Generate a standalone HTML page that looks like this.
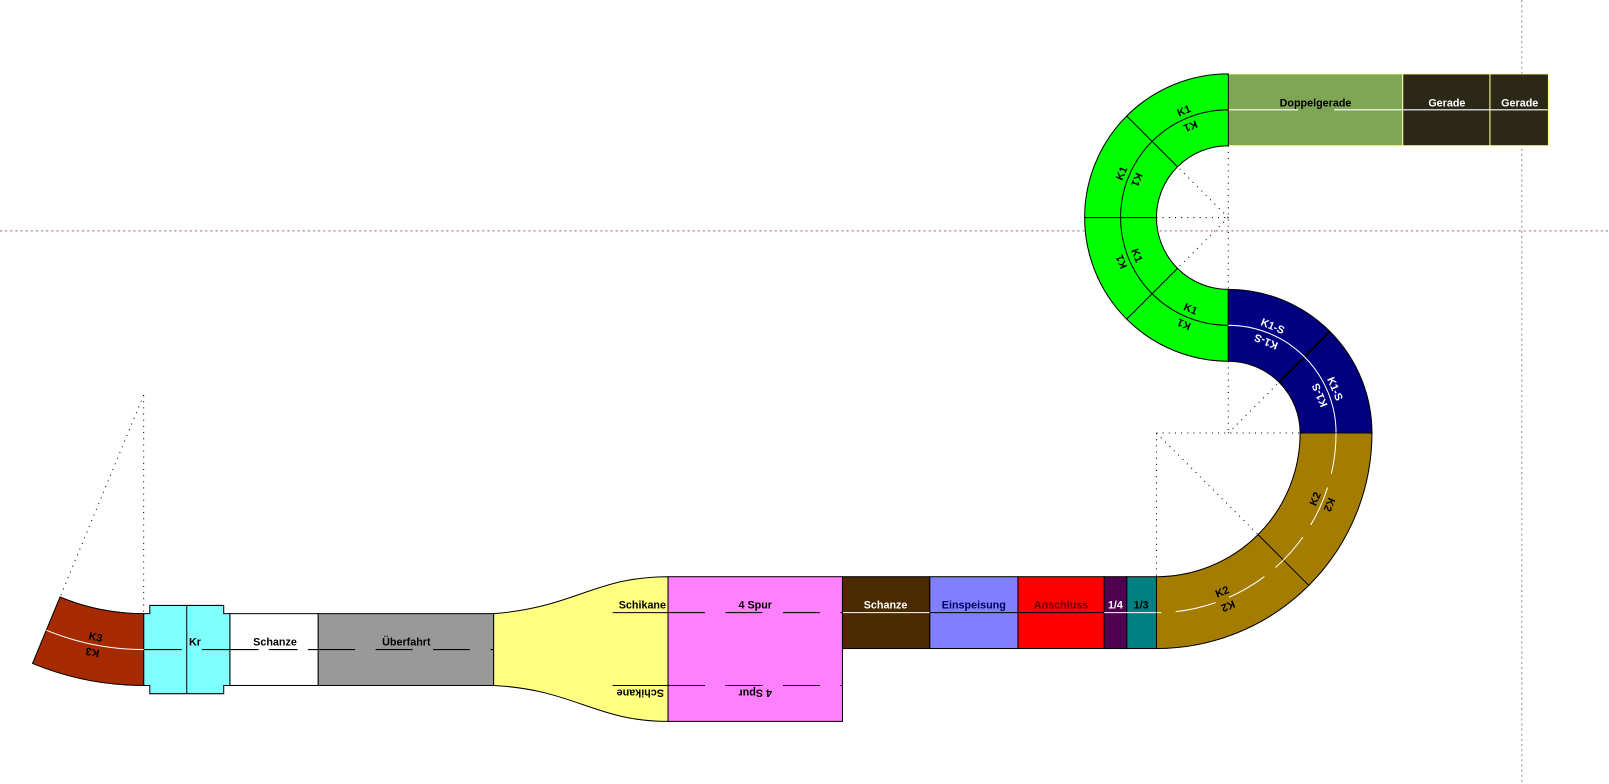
<!DOCTYPE html>
<html><head><meta charset="utf-8">
<style>
html,body{margin:0;padding:0;background:#fff;}
svg{display:block;}
text{font-family:"Liberation Sans",Arial,sans-serif;font-weight:bold;font-size:10.5px;text-anchor:middle;dominant-baseline:central;}
.dk{fill:#000;} .wt{fill:#fff;}
.cb{stroke:#000;stroke-width:1;fill:none;}
.cw{stroke:#fff;stroke-width:1;fill:none;}
.ed{stroke:#000;stroke-width:1;}
.dot{stroke:#000;stroke-width:1;stroke-dasharray:1,5;fill:none;}
</style></head>
<body>
<svg width="1609" height="784" viewBox="0 0 1568 764" xmlns="http://www.w3.org/2000/svg">
<rect width="1568" height="764" fill="#fff"/>
<!-- guide lines -->
<line x1="0" y1="225" x2="1568" y2="225" stroke="#a06060" stroke-dasharray="2,3" stroke-width="1"/>
<line x1="1483" y1="0" x2="1483" y2="764" stroke="#909090" stroke-dasharray="2,3" stroke-width="1"/>
<!-- construction dotted -->
<g class="dot">
<line x1="1197" y1="142" x2="1197" y2="282"/>
<line x1="1127" y1="212" x2="1197" y2="212"/>
<line x1="1197" y1="212" x2="1147.5" y2="162.5"/>
<line x1="1197" y1="212" x2="1147.5" y2="261.5"/>
<line x1="1197" y1="352" x2="1197" y2="422"/>
<line x1="1127" y1="422" x2="1267" y2="422"/>
<line x1="1197" y1="422" x2="1246.5" y2="372.5"/>
<line x1="1127" y1="422" x2="1127" y2="562"/>
<line x1="1127" y1="422" x2="1226" y2="521"/>
<line x1="140" y1="385" x2="140" y2="598"/>
<line x1="140" y1="385" x2="58.5" y2="581.8"/>
</g>
<!-- Top straights -->
<rect x="1197" y="72" width="170" height="70" fill="#7ea655" stroke="#ffffa0"/>
<rect x="1367" y="72" width="85" height="70" fill="#2b2817" stroke="#ffffa0"/>
<rect x="1452" y="72" width="57" height="70" fill="#2b2817" stroke="#ffffa0"/>
<line x1="1197" y1="107" x2="1265" y2="107" class="cw"/><line x1="1300" y1="107" x2="1367" y2="107" class="cw"/>
<line x1="1367" y1="107" x2="1509" y2="107" class="cw"/>
<text x="1282" y="101" class="dk">Doppelgerade</text>
<text x="1410" y="101" class="wt">Gerade</text>
<text x="1481" y="101" class="wt">Gerade</text>
<!-- Green K1 -->
<path d="M1197,72 A140,140 0 0 0 1197,352 L1197,282 A70,70 0 0 1 1197,142 Z" fill="#00ff00" class="ed"/>
<g class="ed"><line x1="1147.5" y1="162.5" x2="1098" y2="113"/><line x1="1127" y1="212" x2="1057" y2="212"/><line x1="1147.5" y1="261.5" x2="1098" y2="311"/></g>
<path d="M1197,107 A105,105 0 0 0 1197,317" class="cb"/>
<g class="dk">
<text transform="translate(1154,108.5) rotate(-22.5)">K1</text>
<text transform="translate(1160,122.4) rotate(157.5)">K1</text>
<text transform="translate(1093.5,169.1) rotate(-67.5)">K1</text>
<text transform="translate(1107.4,174.9) rotate(112.5)">K1</text>
<text transform="translate(1093.5,254.9) rotate(247.5)">K1</text>
<text transform="translate(1107.4,249.1) rotate(67.5)">K1</text>
<text transform="translate(1154,315.5) rotate(202.5)">K1</text>
<text transform="translate(1160,301.6) rotate(22.5)">K1</text>
</g>
<!-- Blue K1-S -->
<path d="M1197,282 A140,140 0 0 1 1337,422 L1267,422 A70,70 0 0 0 1197,352 Z" fill="#000080" class="ed"/>
<line x1="1246.5" y1="372.5" x2="1296" y2="323" stroke="#000" stroke-width="2"/>
<path d="M1197,317 A105,105 0 0 1 1302,422" class="cw"/>
<g class="wt">
<text transform="translate(1240,318.5) rotate(22.5)">K1-S</text>
<text transform="translate(1234,332.4) rotate(202.5)">K1-S</text>
<text transform="translate(1300.5,379.1) rotate(67.5)">K1-S</text>
<text transform="translate(1286.6,384.9) rotate(247.5)">K1-S</text>
</g>
<!-- K2 -->
<path d="M1337,422 A210,210 0 0 1 1127,632 L1127,562 A140,140 0 0 0 1267,422 Z" fill="#a47c00" class="ed"/>
<line x1="1226" y1="521" x2="1275.5" y2="570.5" class="ed"/>
<path d="M1302,422 A175,175 0 0 1 1127,597" stroke="#fff" fill="none" stroke-dasharray="40,14"/>
<g class="dk">
<text transform="translate(1295,491.6) rotate(112.5)">K2</text>
<text transform="translate(1282.2,486.3) rotate(292.5)">K2</text>
<text transform="translate(1196.6,590.1) rotate(157.5)">K2</text>
<text transform="translate(1191.3,577.2) rotate(337.5)">K2</text>
</g>
<!-- Bottom straights -->
<rect x="1098" y="562" width="29" height="70" fill="#008080" class="ed"/>
<rect x="1076" y="562" width="22" height="70" fill="#500050" class="ed"/>
<rect x="992" y="562" width="84" height="70" fill="#ff0000" class="ed"/>
<rect x="906" y="562" width="86" height="70" fill="#8080ff" class="ed"/>
<rect x="821" y="562" width="85" height="70" fill="#4a2a00" class="ed"/>
<line x1="1076" y1="597" x2="1127" y2="597" class="cw"/>
<line x1="992" y1="597" x2="1076" y2="597" class="cb"/>
<line x1="906" y1="597" x2="992" y2="597" class="cb"/>
<line x1="821" y1="597" x2="906" y2="597" class="cw"/>
<text x="1087" y="590" class="wt">1/4</text>
<text x="1112" y="590" class="dk">1/3</text>
<text x="1034" y="590" style="fill:#600000">Anschluss</text>
<text x="949" y="590" style="fill:#000060">Einspeisung</text>
<text x="863" y="590" class="wt">Schanze</text>
<!-- 4 Spur -->
<rect x="651" y="562" width="170" height="141" fill="#ff80ff" class="ed"/>
<line x1="651" y1="597" x2="821" y2="597" class="cb" stroke-dasharray="36,20"/>
<line x1="651" y1="668" x2="821" y2="668" class="cb" stroke-dasharray="36,20"/>
<text x="736" y="590" class="dk">4 Spur</text>
<text transform="translate(736,675) rotate(180)" class="dk">4 Spur</text>
<!-- Schikane -->
<path d="M481,598 C560,592 580,562 651,562 L651,703 C580,703 560,672 481,668 Z" fill="#ffff80" class="ed"/>
<line x1="597" y1="597" x2="651" y2="597" class="cb"/>
<line x1="597" y1="668" x2="651" y2="668" class="cb"/>
<text x="626" y="590" class="dk">Schikane</text>
<text transform="translate(624,675) rotate(180)" class="dk">Schikane</text>
<!-- Überfahrt -->
<rect x="310" y="598" width="171" height="70" fill="#999999" class="ed"/>
<line x1="310" y1="633" x2="481" y2="633" class="cb" stroke-dasharray="36,20"/>
<text x="396" y="626" class="dk">Überfahrt</text>
<!-- Schanze white -->
<rect x="224" y="598" width="86" height="70" fill="#ffffff" class="ed"/>
<line x1="224" y1="633" x2="310" y2="633" class="cb" stroke-dasharray="28,10"/>
<text x="268" y="626" class="dk">Schanze</text>
<!-- Kr -->
<path d="M140,598 L146,598 L146,590 L218,590 L218,598 L224,598 L224,668 L218,668 L218,676 L146,676 L146,668 L140,668 Z" fill="#80ffff" class="ed"/>
<line x1="182" y1="590" x2="182" y2="676" class="ed"/>
<line x1="140" y1="633" x2="177" y2="633" class="cb"/><line x1="197" y1="633" x2="224" y2="633" class="cb"/>
<text x="190" y="626" class="dk">Kr</text>
<!-- K3 -->
<path d="M140,668 A283,283 0 0 1 31.7,646.5 L58.5,581.8 A213,213 0 0 0 140,598 Z" fill="#a52a00" class="ed"/>
<path d="M140,633 A248,248 0 0 1 45.1,614.1" class="cw"/>
<g class="dk">
<text transform="translate(93,621.4) rotate(11.25)">K3</text>
<text transform="translate(90.2,635.1) rotate(191.25)">K3</text>
</g>
</svg>
</body></html>
